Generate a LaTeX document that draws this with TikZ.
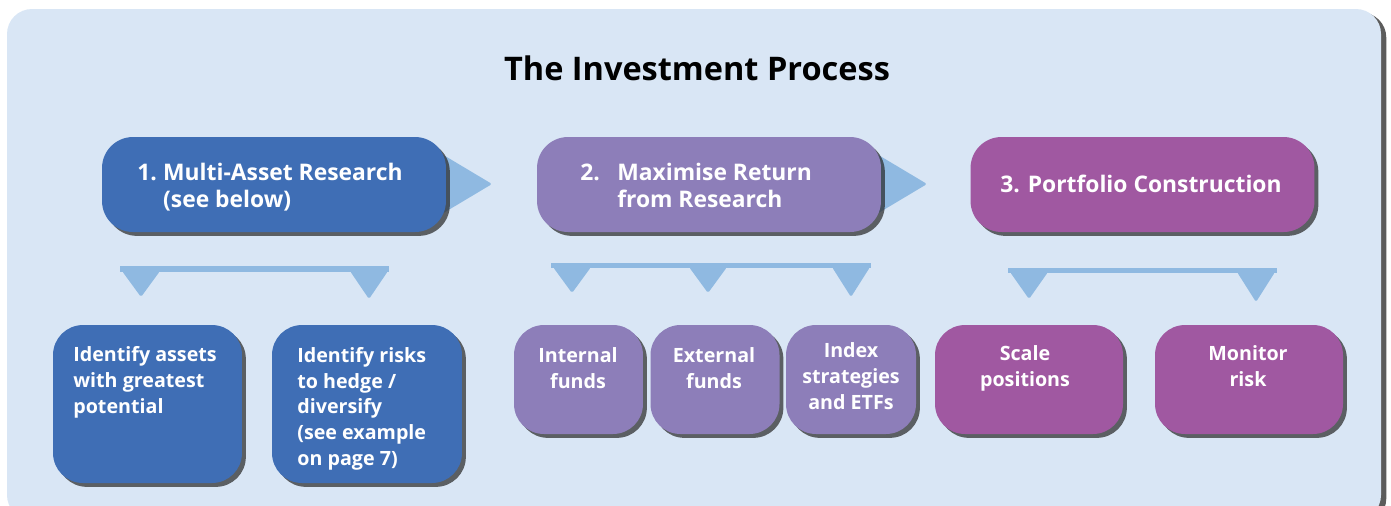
\documentclass[tikz,border=0pt]{standalone}
\usepackage{fontspec}
\setmainfont{Open Sans}
\usetikzlibrary{shadows}

\definecolor{panelblue}{RGB}{217,230,245}
\definecolor{researchblue}{RGB}{63,110,181}
\definecolor{returnlilac}{RGB}{141,126,185}
\definecolor{portfoliopurple}{RGB}{160,88,161}
\definecolor{tipblue}{RGB}{143,185,225}

% little wedge hanging under a bar, tip pointing down
\def\downtip(#1,#2)(#3){\fill[tipblue, rounded corners=1pt] (#1-19,#2) -- (#1+19,#2) -- (#1,#2+#3) -- cycle;}
\def\numtab#1#2{\makebox[#1][l]{#2}}

\begin{document}
\begin{tikzpicture}[x=0.02cm, y=-0.02cm,
	boxshadow/.style={drop shadow={shadow xshift=2.2pt, shadow yshift=-2.2pt, fill=black!85, opacity=0.7}},
	stage/.style={boxshadow, rounded corners=0.62cm, minimum width=6.88cm, minimum height=1.9cm, inner sep=0pt},
	leaf/.style={boxshadow, rounded corners=0.6cm, minimum height=2.18cm, inner sep=0pt},
	stagetxt/.style={text=white, inner sep=0pt, font=\bfseries\fontsize{13}{15.3}\selectfont},
	leaftxt/.style={text=white, inner sep=0pt, font=\bfseries\fontsize{11.2}{14.6}\selectfont}]
			%%%%% START %%%%%
			\useasboundingbox (0, 0) rectangle (1391, 505);
			
			\fill[panelblue, rounded corners=0.5cm, drop shadow={shadow xshift=3pt, shadow yshift=-2pt, fill=black!80, opacity=0.8}] (7, 9) rectangle (1381, 520);
			
			\node[anchor=base, font=\bfseries\fontsize{18.5}{22}\selectfont] (title) at (697, 80) {The Investment Process};
			
			% arrows between the stages sit behind the boxes
			\fill[tipblue, rounded corners=1pt] (430, 147) -- (492, 184) -- (430, 221) -- cycle;
			\fill[tipblue, rounded corners=1pt] (865, 147) -- (927, 184) -- (865, 221) -- cycle;
			
			\node[stage, fill=researchblue] (research) at (274, 184.5) {};
			\node[stage, fill=returnlilac] (returns) at (709, 184.5) {};
			\node[stage, fill=portfoliopurple] (construct) at (1142.5, 184.5) {};
			
			% multi-line texts are placed by the baseline of their last line
			\node[stagetxt, anchor=base west, align=left] (research-txt) at (137, 207) {\numtab{14.7pt}{1.}Multi-Asset Research\\\hspace*{14.7pt}(see below)};
			\node[stagetxt, anchor=base west, align=left] (returns-txt) at (580, 207) {\numtab{21pt}{2.}Maximise Return\\\hspace*{21pt}from Research};
			\node[stagetxt, anchor=base] (construct-txt) at (1141, 192) {3. Portfolio Construction};
			
			% bars with their wedges
			\fill[tipblue] (120, 266) rectangle (389, 272);
			\downtip(141, 271)(26)
			\downtip(369, 271)(28)
			
			\fill[tipblue] (551, 263) rectangle (871, 268);
			\downtip(572, 267)(26)
			\downtip(708, 267)(26)
			\downtip(851, 267)(30)
			
			\fill[tipblue] (1008, 268) rectangle (1277, 273);
			\downtip(1029, 272)(27)
			\downtip(1256, 272)(30)
			
			% lower row
			\node[leaf, fill=researchblue, minimum width=3.78cm, minimum height=3.16cm] (assets) at (147.5, 404) {};
			\node[leaf, fill=researchblue, minimum width=3.8cm, minimum height=3.16cm] (hedges) at (367, 404) {};
			
			\node[leaf, fill=returnlilac, minimum width=2.58cm] (internal) at (578.5, 379.5) {};
			\node[leaf, fill=returnlilac, minimum width=2.58cm] (external) at (715, 379.5) {};
			\node[leaf, fill=returnlilac, minimum width=2.6cm] (index) at (851, 379.5) {};
			
			\node[leaf, fill=portfoliopurple, minimum width=3.76cm] (scale) at (1029, 379.5) {};
			\node[leaf, fill=portfoliopurple, minimum width=3.76cm] (monitor) at (1249, 379.5) {};
			
			\node[leaftxt, anchor=base west, align=left] (assets-txt) at (73, 413) {Identify assets\\with greatest\\potential};
			\node[leaftxt, anchor=base west, align=left] (hedges-txt) at (297, 465) {Identify risks\\to hedge /\\diversify\\(see example\\on page 7)};
			\node[leaftxt, anchor=base, align=center] (internal-txt) at (578, 388) {Internal\\funds};
			\node[leaftxt, anchor=base, align=center] (external-txt) at (714, 388) {External\\funds};
			\node[leaftxt, anchor=base, align=center] (index-txt) at (851, 409) {Index\\strategies\\and ETFs};
			\node[leaftxt, anchor=base, align=center] (scale-txt) at (1025, 386) {Scale\\positions};
			\node[leaftxt, anchor=base, align=center] (monitor-txt) at (1248, 386) {Monitor\\risk};
			%%%%% END %%%%%
\end{tikzpicture}
\end{document}
